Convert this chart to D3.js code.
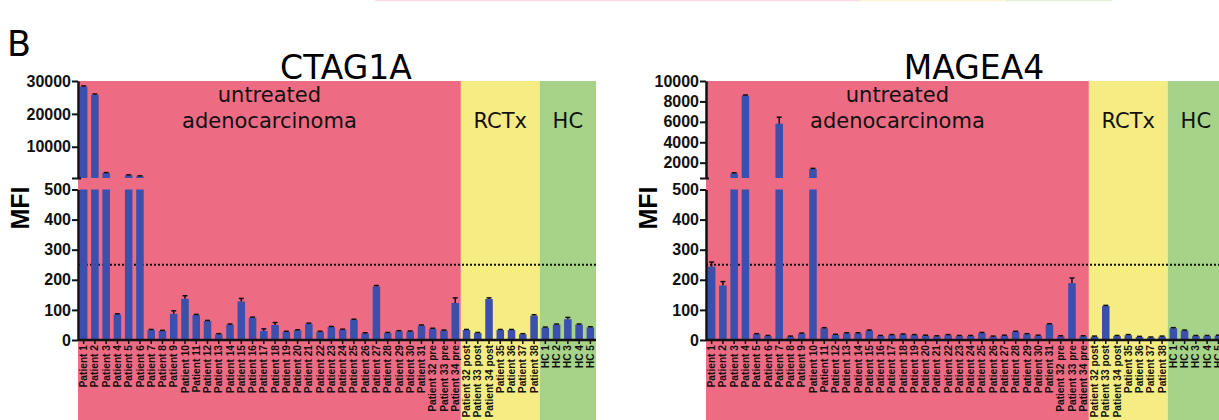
<!DOCTYPE html>
<html>
<head>
  <meta charset="utf-8">
  <title>CTAG1A and MAGEA4 MFI</title>
  <script src="https://d3js.org/d3.v7.min.js"></script>
  <style>
    body { margin: 0; background: #fff; }
    svg { display: block; }
  </style>
</head>
<body>
  <div id="chart"></div>

  <script>
    // Categories shared by both panels
    const categories = [
      "Patient 1", "Patient 2", "Patient 3", "Patient 4", "Patient 5", "Patient 6",
      "Patient 7", "Patient 8", "Patient 9", "Patient 10", "Patient 11", "Patient 12",
      "Patient 13", "Patient 14", "Patient 15", "Patient 16", "Patient 17", "Patient 18",
      "Patient 19", "Patient 20", "Patient 21", "Patient 22", "Patient 23", "Patient 24",
      "Patient 25", "Patient 26", "Patient 27", "Patient 28", "Patient 29", "Patient 30",
      "Patient 31", "Patient 32 pre", "Patient 33 pre", "Patient 34 pre",
      "Patient 32 post", "Patient 33 post", "Patient 34 post", "Patient 35", "Patient 36",
      "Patient 37", "Patient 38",
      "HC 1", "HC 2", "HC 3", "HC 4", "HC 5"
    ];

    // Groups shown as coloured backgrounds
    const groupLabels = [["untreated", "adenocarcinoma"], ["RCTx"], ["HC"]];
    const groupFirst = ["Patient 1", "Patient 32 post", "HC 1"];
    const groupLast = ["Patient 34 pre", "Patient 38", "HC 5"];

    // CTAG1A MFI and error (SEM)
    const ctagValues = [
      28300, 25800, 2000, 85, 1300, 1000, 33, 30, 87, 137, 83, 63,
      19, 51, 128, 74, 30, 50, 27, 32, 54, 27, 43, 34,
      67, 22, 178, 23, 29, 28, 48, 37, 31, 123,
      33, 23, 136, 33, 33, 19, 81,
      41, 51, 69, 51, 42
    ];
    const ctagErrors = [
      200, 250, 150, 2, 150, 150, 2, 2, 10, 10, 2, 2,
      2, 2, 10, 2, 7, 8, 2, 2, 2, 2, 2, 2,
      2, 2, 3, 2, 2, 2, 2, 2, 2, 17,
      2, 2, 4, 2, 2, 2, 3,
      2, 2, 6, 2, 2
    ];

    // MAGEA4 MFI and error (SEM)
    const mageValues = [
      244, 181, 950, 8570, 19, 13, 5825, 11, 21, 1380, 39, 17,
      22, 22, 31, 13, 16, 18, 16, 14, 12, 16, 13, 13,
      23, 11, 14, 27, 19, 14, 52, 12, 189, 12,
      11, 113, 13, 16, 10, 8, 11,
      39, 31, 13, 13, 14
    ];
    const mageErrors = [
      15, 13, 60, 60, 2, 2, 630, 2, 2, 60, 2, 2,
      2, 2, 2, 2, 2, 2, 2, 2, 2, 2, 2, 2,
      2, 2, 2, 2, 2, 2, 2, 2, 17, 2,
      2, 2, 2, 2, 2, 2, 2,
      2, 2, 2, 2, 2
    ];

    const lowTicks = [0, 100, 200, 300, 400, 500];
    const ctagHighTicks = [10000, 20000, 30000];
    const mageHighTicks = [2000, 4000, 6000, 8000, 10000];
    const breakValue = 500;
    const cutoff = 250;

    // Styles
    const groupColors = ["#ee6b84", "#f6ec84", "#a7d389"];
    const barColor = "#3b50ad";
    const labelFont = "'Liberation Sans', Arial, sans-serif";
    const textFont = "'DejaVu Sans', Verdana, sans-serif";

    const W = 1219, H = 420;
    const svg = d3.select("#chart")
                  .append("svg")
                  .attr("width", W)
                  .attr("height", H);

    // faint strip left over from the panel above
    [[375, 860, "#f9dde3"], [860, 1006, "#faf6d6"], [1006, 1112, "#e4f0db"]].forEach(s => {
      svg.append("line")
         .attr("x1", s[0]).attr("x2", s[1])
         .attr("y1", 0.5).attr("y2", 0.5)
         .attr("stroke", s[2]).attr("stroke-width", 1.5);
    });

    svg.append("text")
       .attr("x", 7).attr("y", 56)
       .attr("font-family", textFont)
       .attr("font-size", 35)
       .text("B");

    function drawPanel(x0, title, values, errors, highMax, highTicks) {
      const plotW = 518;
      const yBase = 340, yLowTop = 189.5, yHighBottom = 178, yTop = 81;

      const x = d3.scaleBand()
                  .domain(categories)
                  .range([x0, x0 + plotW])
                  .paddingInner(0.33)
                  .paddingOuter(0.165);

      const yLow = d3.scaleLinear().domain([0, breakValue]).range([yBase, yLowTop]);
      const yHigh = d3.scaleLinear().domain([breakValue, highMax]).range([yHighBottom, yTop]);

      const g = svg.append("g");
      const half = (x.step() - x.bandwidth()) / 2;

      // group backgrounds
      groupLabels.forEach((lines, i) => {
        const left = x(groupFirst[i]) - half;
        const right = x(groupLast[i]) + x.bandwidth() + half;
        g.append("rect")
         .attr("x", left)
         .attr("y", yTop)
         .attr("width", right - left)
         .attr("height", H - yTop)
         .attr("fill", groupColors[i]);

        lines.forEach((ln, j) => {
          g.append("text")
           .attr("x", (left + right) / 2)
           .attr("y", 128 - (lines.length - 1 - j) * 26)
           .attr("text-anchor", "middle")
           .attr("font-family", textFont)
           .attr("font-size", 21)
           .attr("fill", "#111")
           .text(ln);
        });
      });

      // title
      g.append("text")
       .attr("x", x0 + 268)
       .attr("y", 79)
       .attr("text-anchor", "middle")
       .attr("font-family", textFont)
       .attr("font-size", 33)
       .text(title);

      // cutoff line
      g.append("line")
       .attr("x1", x0).attr("x2", x0 + plotW)
       .attr("y1", yLow(cutoff)).attr("y2", yLow(cutoff))
       .attr("stroke", "#111")
       .attr("stroke-width", 2)
       .attr("stroke-dasharray", "2,2");

      // bars (broken where above the break)
      const data = categories.map((c, i) => ({ c: c, v: values[i], e: errors[i] }));

      g.selectAll(".low")
       .data(data)
       .enter()
       .append("rect")
       .attr("x", d => x(d.c))
       .attr("width", x.bandwidth())
       .attr("y", d => yLow(Math.min(d.v, breakValue)))
       .attr("height", d => yBase - yLow(Math.min(d.v, breakValue)))
       .attr("fill", barColor);

      g.selectAll(".high")
       .data(data.filter(d => d.v > breakValue))
       .enter()
       .append("rect")
       .attr("x", d => x(d.c))
       .attr("width", x.bandwidth())
       .attr("y", d => yHigh(d.v))
       .attr("height", d => yHighBottom - yHigh(d.v))
       .attr("fill", barColor);

      // error bars (upper only)
      const yOf = v => v > breakValue ? yHigh(v) : yLow(v);
      const err = g.selectAll(".err")
                   .data(data)
                   .enter()
                   .append("g")
                   .attr("stroke", "#111")
                   .attr("stroke-width", 1.5);
      err.append("line")
         .attr("x1", d => x(d.c) + x.bandwidth() / 2)
         .attr("x2", d => x(d.c) + x.bandwidth() / 2)
         .attr("y1", d => yOf(d.v))
         .attr("y2", d => yOf(d.v + d.e));
      err.append("line")
         .attr("x1", d => x(d.c) + x.bandwidth() / 2 - 2.5)
         .attr("x2", d => x(d.c) + x.bandwidth() / 2 + 2.5)
         .attr("y1", d => yOf(d.v + d.e))
         .attr("y2", d => yOf(d.v + d.e));

      // y axes: lower and upper segments
      const lowAxis = g.append("g")
                       .attr("transform", "translate(" + x0 + ",0)")
                       .call(d3.axisLeft(yLow).tickValues(lowTicks).tickSize(6).tickSizeOuter(0).tickPadding(1));
      const highAxis = g.append("g")
                        .attr("transform", "translate(" + x0 + ",0)")
                        .call(d3.axisLeft(yHigh)
                                .tickValues([breakValue].concat(highTicks))
                                .tickFormat(d => d === breakValue ? "" : d)
                                .tickSize(6).tickSizeOuter(0).tickPadding(1));

      [lowAxis, highAxis].forEach(a => {
        a.select(".domain").attr("stroke", "#111").attr("stroke-width", 2.5);
        a.selectAll(".tick line").attr("stroke", "#111").attr("stroke-width", 2);
        a.selectAll(".tick text")
         .attr("fill", "#111")
         .attr("font-family", labelFont)
         .attr("font-weight", "bold")
         .attr("font-size", 16);
      });
      highAxis.selectAll(".tick")
              .filter(d => d === breakValue)
              .select("line")
              .attr("x2", -6)
              .attr("x1", 3);

      // x axis
      const xAxis = g.append("g")
                     .attr("transform", "translate(0," + yBase + ")")
                     .call(d3.axisBottom(x).tickSize(4).tickSizeOuter(0));
      xAxis.select(".domain")
           .attr("stroke", "#111").attr("stroke-width", 2.5)
           .attr("d", "M" + x0 + ",0H" + (x0 + plotW));
      xAxis.selectAll(".tick line").attr("stroke", "#111").attr("stroke-width", 1.5);
      xAxis.selectAll(".tick text")
           .attr("transform", "rotate(-90)")
           .attr("x", -5)
           .attr("y", 0)
           .attr("dy", "0.35em")
           .style("text-anchor", "end")
           .attr("fill", "#111")
           .attr("font-family", labelFont)
           .attr("font-weight", "bold")
           .attr("font-size", 10.2);

      // y label
      g.append("text")
       .attr("transform", "translate(" + (x0 - 58) + ",208) rotate(-90)")
       .attr("text-anchor", "middle")
       .attr("dy", "0.35em")
       .attr("font-family", labelFont)
       .attr("font-weight", "bold")
       .attr("font-size", 25)
       .text("MFI");
    }

    drawPanel(78, "CTAG1A", ctagValues, ctagErrors, 30000, ctagHighTicks);
    drawPanel(706, "MAGEA4", mageValues, mageErrors, 10000, mageHighTicks);
  </script>
</body>
</html>
